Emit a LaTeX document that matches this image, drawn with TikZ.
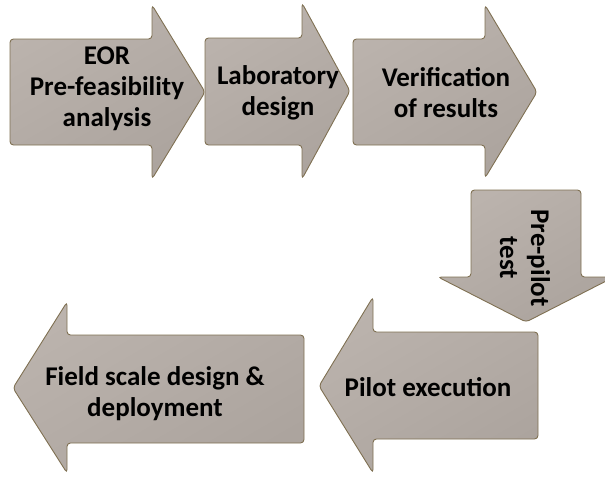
\documentclass[tikz,border=0pt]{standalone}
\usepackage{fontspec}
\setmainfont{Carlito}
\begin{document}
\definecolor{stepfill}{HTML}{B4ACA6}
\definecolor{steplight}{HTML}{BBB3AD}
\definecolor{stepdark}{HTML}{ACA49E}
\definecolor{stepedge}{HTML}{7F7052}
\tikzset{
  flowarrow/.style={draw=stepedge, line width=0.9pt, rounded corners=3.5pt,
    top color=steplight, bottom color=stepdark, shading angle=30},
  steptext/.style={font=\bfseries\fontsize{27}{31}\selectfont, align=center,
    text=black, inner sep=0pt}
}
\begin{tikzpicture}[x=1pt, y=-1pt]
  \useasboundingbox (0,0) rectangle (605,477);
  \clip (0,0) rectangle (605,477);
  % top row, pointing right
  \draw[flowarrow] (10,39) -- (152,39) -- (152,5) -- (205,92) -- (152,179)
    -- (152,145) -- (10,145) -- cycle;
  \draw[flowarrow] (205,38) -- (302,38) -- (302,3) -- (350,91) -- (302,179)
    -- (302,145) -- (205,145) -- cycle;
  \draw[flowarrow] (353,39) -- (485,39) -- (485,5) -- (537,92) -- (485,178)
    -- (485,145) -- (353,145) -- cycle;
  % turn downwards
  \draw[flowarrow] (471,190) -- (581,190) -- (581,277) -- (614,277) -- (526,322)
    -- (438,277) -- (471,277) -- cycle;
  % bottom row, pointing left
  \draw[flowarrow] (538,332) -- (538,439) -- (373,439) -- (373,473) -- (319,386)
    -- (373,297) -- (373,332) -- cycle;
  \draw[flowarrow] (304,335) -- (304,443) -- (67,443) -- (67,473) -- (13,388)
    -- (67,302) -- (67,335) -- cycle;
  % labels
  \node[steptext] (eor) at (107,89) {EOR\\Pre-feasibility\\analysis};
  \node[steptext] (lab) at (278,93) {Laboratory\\design};
  \node[steptext] (ver) at (446,93) {Verification\\of results};
  \node[steptext, rotate=-90] (pre) at (525,258) {Pre-pilot\\test};
  \node[steptext] (pil) at (428,387) {Pilot execution};
  \node[steptext] (fld) at (155,394) {Field scale design \&\\deployment};
\end{tikzpicture}
\end{document}
